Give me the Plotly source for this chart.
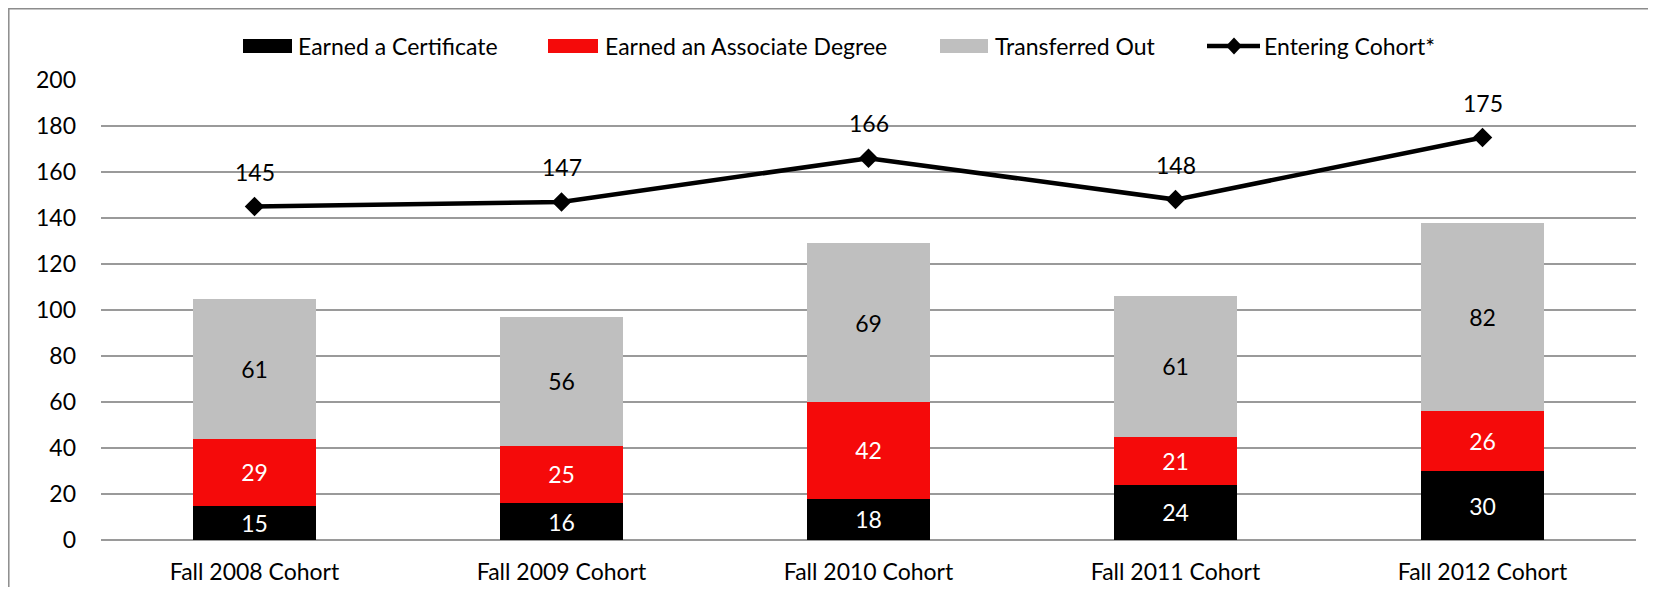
import plotly.graph_objects as go

categories = ["Fall 2008 Cohort", "Fall 2009 Cohort", "Fall 2010 Cohort", "Fall 2011 Cohort", "Fall 2012 Cohort"]
certificate = [15, 16, 18, 24, 30]
associate = [29, 25, 42, 21, 26]
transferred = [61, 56, 69, 61, 82]
cohort = [145, 147, 166, 148, 175]

series_names = ["Earned a Certificate", "Earned an Associate Degree", "Transferred Out", "Entering Cohort*"]
bar_colors = ["#000000", "#F50A0A", "#BFBFBF"]
label_colors = ["white", "white", "black"]

FONT = "Lato"
FS = 23
# page has an 8px body margin; figure sized to fit the window without scrollbars
W, H = 1640, 579
ML, MR, MT, MB = 93, 12, 72, 47
PW, PH = W - ML - MR, H - MT - MB
PLOT_LEFT_SCREEN, PLOT_BOTTOM_SCREEN = ML + 8, MT + 8 + PH


def px(x):
    return (x - PLOT_LEFT_SCREEN) / PW


def py(y):
    return (PLOT_BOTTOM_SCREEN - y) / PH


fig = go.Figure()
for vals, name, col, lcol in zip([certificate, associate, transferred], series_names[:3], bar_colors, label_colors):
    fig.add_trace(go.Bar(x=categories, y=vals, name=name, showlegend=False,
                         marker=dict(color=col, line=dict(color=col, width=0)),
                         text=vals, textposition="inside", insidetextanchor="middle", textangle=0,
                         textfont=dict(color=lcol, size=FS, family=FONT), constraintext="none"))
fig.add_trace(go.Scatter(x=categories, y=cohort, name=series_names[3], mode="lines+markers", showlegend=False,
                         line=dict(color="black", width=4.5),
                         marker=dict(symbol="diamond", size=15, color="black")))

for c, v in zip(categories, cohort):
    fig.add_annotation(x=c, y=v, text=str(v), showarrow=False, yshift=35,
                       font=dict(size=FS, color="black", family=FONT))

# custom legend (Excel-style wide swatches)
legend_y = 46
swatches = [(243, 292), (548, 598), (940, 988)]
text_x = [296, 603, 993, 1262]
for (x0, x1), col in zip(swatches, bar_colors):
    fig.add_shape(type="rect", xref="paper", yref="paper", x0=px(x0), x1=px(x1),
                  y0=py(legend_y + 7), y1=py(legend_y - 7), fillcolor=col, line=dict(width=0))
fig.add_shape(type="line", xref="paper", yref="paper", x0=px(1207), x1=px(1260),
              y0=py(legend_y), y1=py(legend_y), line=dict(color="black", width=4.5))
xc, yc = px(1234), py(legend_y)
dx, dy = 8 / PW, 8.5 / PH
fig.add_shape(type="path", xref="paper", yref="paper",
              path=f"M {xc-dx} {yc} L {xc} {yc+dy} L {xc+dx} {yc} L {xc} {yc-dy} Z",
              fillcolor="black", line=dict(color="black", width=0))
for name, tx in zip(series_names, text_x):
    fig.add_annotation(xref="paper", yref="paper", x=px(tx), y=py(legend_y), text=name,
                       xanchor="left", yanchor="middle", showarrow=False,
                       font=dict(size=FS, color="black", family=FONT))

# outer border (left and top edges visible)
fig.add_shape(type="rect", xref="paper", yref="paper", x0=px(8.8), x1=px(1700),
              y0=py(700), y1=py(8.8),
              line=dict(color="#8c8c8c", width=1.5), fillcolor="rgba(0,0,0,0)", layer="below")

fig.update_layout(
    width=W, height=H,
    margin=dict(l=ML, r=MR, t=MT, b=MB, autoexpand=False),
    barmode="stack", bargap=0.6,
    plot_bgcolor="white", paper_bgcolor="white",
    font=dict(family=FONT, size=FS, color="black"),
    showlegend=False,
    xaxis=dict(showgrid=False, ticks="", ticklabelstandoff=16, showline=False, automargin=False,
               tickfont=dict(size=FS, family=FONT)),
    yaxis=dict(range=[0, 200], dtick=20, showgrid=True, gridcolor="#9a9a9a", gridwidth=1.5,
               zeroline=True, zerolinecolor="#9a9a9a", zerolinewidth=1.5, automargin=False,
               ticks="", ticklabelstandoff=24, tickfont=dict(size=FS, family=FONT)),
)

fig.write_html("out.html")
